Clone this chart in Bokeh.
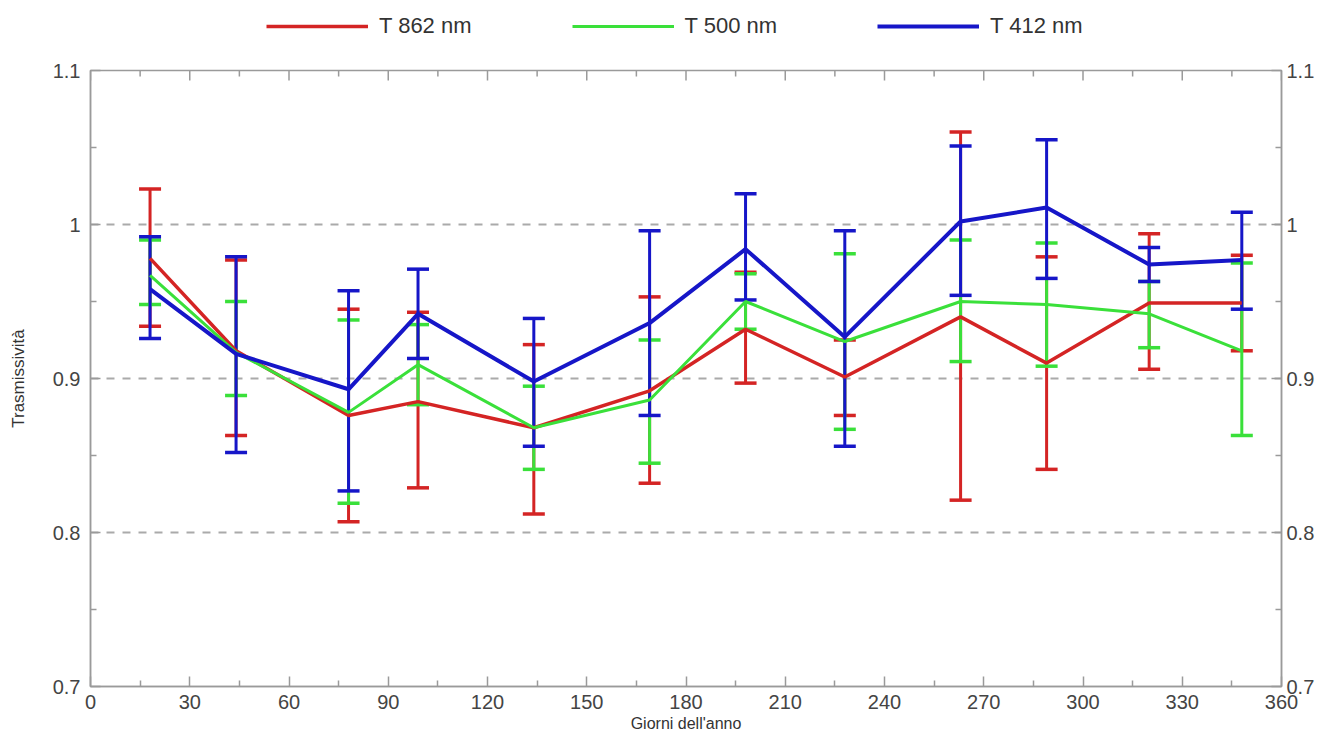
import math
from bokeh.plotting import figure
from bokeh.layouts import column
from bokeh.models import (ColumnDataSource, Whisker, TeeHead, FixedTicker, LinearAxis,
                          Legend, LegendItem, Range1d)
from bokeh.embed import file_html
from bokeh.resources import INLINE

days = [18, 44, 78, 99, 134, 169, 198, 228, 263, 289, 320, 348]

t862 = [0.978, 0.918, 0.876, 0.885, 0.868, 0.892, 0.932, 0.901, 0.940, 0.910, 0.949, 0.949]
t862_hi = [1.023, 0.977, 0.945, 0.943, 0.922, 0.953, 0.969, 0.925, 1.060, 0.979, 0.994, 0.980]
t862_lo = [0.934, 0.863, 0.807, 0.829, 0.812, 0.832, 0.897, 0.876, 0.821, 0.841, 0.906, 0.918]

t500 = [0.967, 0.917, 0.878, 0.909, 0.868, 0.886, 0.950, 0.924, 0.950, 0.948, 0.942, 0.918]
t500_hi = [0.990, 0.950, 0.938, 0.935, 0.895, 0.925, 0.968, 0.981, 0.990, 0.988, 0.963, 0.975]
t500_lo = [0.948, 0.889, 0.819, 0.883, 0.841, 0.845, 0.932, 0.867, 0.911, 0.908, 0.920, 0.863]

t412 = [0.958, 0.916, 0.893, 0.942, 0.898, 0.936, 0.984, 0.927, 1.002, 1.011, 0.974, 0.977]
t412_hi = [0.992, 0.979, 0.957, 0.971, 0.939, 0.996, 1.020, 0.996, 1.051, 1.055, 0.985, 1.008]
t412_lo = [0.926, 0.852, 0.827, 0.913, 0.856, 0.876, 0.951, 0.856, 0.954, 0.965, 0.963, 0.945]

series_names = ["T 862 nm", "T 500 nm", "T 412 nm"]
x_ticks = [0, 30, 60, 90, 120, 150, 180, 210, 240, 270, 300, 330, 360]
x_minor = [15, 45, 75, 105, 135, 165, 195, 225, 255, 285, 315, 345]
y_ticks = [0.7, 0.8, 0.9, 1.0, 1.1]
y_minor = [0.75, 0.85, 0.95, 1.05]
y_labels = ["0.7", "0.8", "0.9", "1", "1.1"]
grid_vals = [0.8, 0.9, 1.0]

colors = ["#d42424", "#3ae03a", "#1616c8"]
widths = [3.5, 3, 4]

FONT = "Liberation Sans"
AXC = "#9a9a9a"
W = 1317
LEG_H = 56

# ---------------- main chart ----------------
p = figure(width=W, height=740 - LEG_H, output_backend="svg", toolbar_location=None,
           x_range=Range1d(0, 360), y_range=Range1d(0.7, 1.1),
           min_border_left=90, min_border_right=32, min_border_top=14, min_border_bottom=54,
           x_axis_location=None, y_axis_location=None)
p.outline_line_color = AXC
p.outline_line_width = 1.5
p.xgrid.visible = False
p.ygrid.ticker = FixedTicker(ticks=grid_vals)
p.ygrid.grid_line_color = "#aaaaaa"
p.ygrid.grid_line_width = 2
p.ygrid.grid_line_dash = "8 8"

overrides = {v: s for v, s in zip(y_ticks, y_labels)}

def style(ax):
    ax.axis_line_color = AXC
    ax.axis_line_width = 1.5
    ax.major_tick_line_color = AXC
    ax.minor_tick_line_color = AXC
    ax.major_tick_line_width = 1.5
    ax.minor_tick_line_width = 1.5
    ax.major_tick_in = 10
    ax.major_tick_out = 0
    ax.minor_tick_in = 6
    ax.minor_tick_out = 0
    ax.major_label_text_font = FONT
    ax.major_label_text_font_size = "20px"
    ax.major_label_text_color = "#444444"

xb = LinearAxis(ticker=FixedTicker(ticks=x_ticks, minor_ticks=x_minor))
style(xb)
xb.major_label_standoff = 8
xb.axis_label = "Giorni dell'anno"
xb.axis_label_text_font = FONT
xb.axis_label_text_font_size = "16px"
xb.axis_label_text_font_style = "normal"
xb.axis_label_text_color = "#333333"
xb.axis_label_standoff = 3
p.add_layout(xb, "below")

yl = LinearAxis(ticker=FixedTicker(ticks=y_ticks, minor_ticks=y_minor),
                major_label_overrides=overrides)
style(yl)
yl.major_label_standoff = 10
yl.axis_label = "Trasmissività"
yl.axis_label_text_font = FONT
yl.axis_label_text_font_size = "17px"
yl.axis_label_text_font_style = "normal"
yl.axis_label_text_color = "#333333"
yl.axis_label_standoff = 22
p.add_layout(yl, "left")

yr = LinearAxis(ticker=FixedTicker(ticks=y_ticks, minor_ticks=y_minor),
                major_label_overrides=overrides)
style(yr)
yr.major_label_standoff = 5
p.add_layout(yr, "right")

# inward ticks along the top edge of the frame
top = p.y_range.end
p.ray(x=x_ticks, y=[top] * len(x_ticks), length=10, length_units="screen",
      angle=-math.pi / 2, line_color=AXC, line_width=1.5)
p.ray(x=x_minor, y=[top] * len(x_minor), length=6, length_units="screen",
      angle=-math.pi / 2, line_color=AXC, line_width=1.5)

data = [(t862, t862_hi, t862_lo), (t500, t500_hi, t500_lo), (t412, t412_hi, t412_lo)]
for (vals, hi, lo), c, w in zip(data, colors, widths):
    src = ColumnDataSource(dict(x=days, y=vals, hi=hi, lo=lo))
    wh = Whisker(base="x", upper="hi", lower="lo", source=src, dimension="height",
                 line_color=c, line_width=3,
                 upper_head=TeeHead(size=22, line_color=c, line_width=3.5),
                 lower_head=TeeHead(size=22, line_color=c, line_width=3.5))
    p.add_layout(wh)
    p.line("x", "y", source=src, line_color=c, line_width=w)

# ---------------- legend strip above ----------------
pl = figure(width=W, height=LEG_H, output_backend="svg", toolbar_location=None,
            x_range=Range1d(0, 360), y_range=Range1d(5, 6),
            min_border_left=0, min_border_right=0, min_border_top=0, min_border_bottom=0,
            x_axis_location=None, y_axis_location=None)
pl.outline_line_color = None
pl.grid.visible = False
items = []
for (vals, hi, lo), c, w, name in zip(data, colors, widths, series_names):
    r = pl.line(days, vals, line_color=c, line_width=w)
    items.append(LegendItem(label=name, renderers=[r]))
legend = Legend(items=items, orientation="horizontal", location=(176, 17),
                glyph_width=102, glyph_height=22, label_standoff=11, spacing=100,
                padding=0, margin=0, border_line_color=None, background_fill_alpha=0,
                label_text_font=FONT, label_text_font_size="22px", label_text_color="#333333")
pl.add_layout(legend, "center")

open("out.html", "w").write(file_html(column(pl, p, spacing=0), INLINE))
